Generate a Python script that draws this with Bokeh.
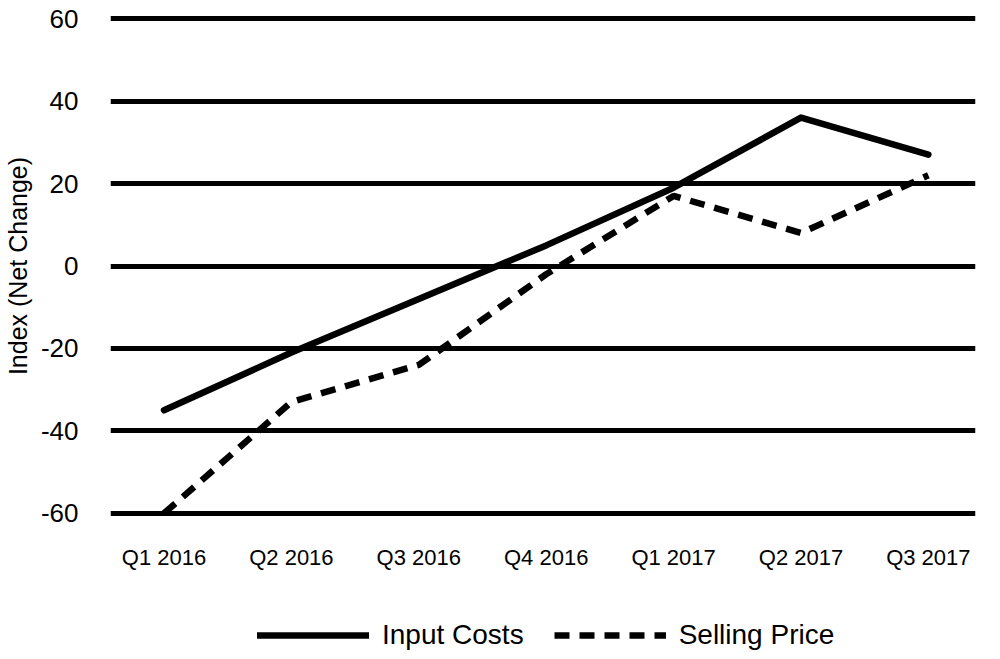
from bokeh.plotting import figure
from bokeh.layouts import column
from bokeh.models import Range1d, FixedTicker, Legend, LegendItem
from bokeh.embed import file_html
from bokeh.resources import INLINE

quarters = ["Q1 2016", "Q2 2016", "Q3 2016", "Q4 2016", "Q1 2017", "Q2 2017", "Q3 2017"]
input_costs = [-35, -21, -8, 5, 19, 36, 27]
selling_price = [-60, -33, -24, -2, 17, 8, 22]
y_ticks = [-60, -40, -20, 0, 20, 40, 60]
y_tick_labels = ["-60", "-40", "-20", "0", "20", "40", "60"]
series_names = ["Input Costs", "Selling Price"]

FONT = "Liberation Sans"
x = list(range(len(quarters)))
SOLID = dict(line_color="black", line_width=6.5, line_join="round", line_cap="round")
DASHED = dict(line_color="black", line_width=6.5, line_dash="15 10")

p = figure(width=984, height=575, output_backend="svg", toolbar_location=None,
           x_range=Range1d(-0.42, 6.37), y_range=Range1d(-61.5, 61.5),
           min_border_left=104, min_border_right=9, min_border_top=12, min_border_bottom=56)
p.outline_line_color = None
p.background_fill_color = "white"

# axes
p.xaxis.ticker = FixedTicker(ticks=x)
p.xaxis.major_label_overrides = {i: q for i, q in enumerate(quarters)}
p.xaxis.axis_line_color = None
p.xaxis.major_tick_line_color = None
p.xaxis.minor_tick_line_color = None
p.xaxis.major_tick_out = 0
p.xaxis.major_label_standoff = 25
p.xaxis.major_label_text_font = FONT
p.xaxis.major_label_text_font_size = "22px"
p.xaxis.major_label_text_color = "black"

p.yaxis.ticker = FixedTicker(ticks=y_ticks)
p.yaxis.major_label_overrides = {t: s for t, s in zip(y_ticks, y_tick_labels)}
p.yaxis.axis_line_color = None
p.yaxis.major_tick_line_color = None
p.yaxis.minor_tick_line_color = None
p.yaxis.major_tick_out = 0
p.yaxis.major_label_standoff = 32
p.yaxis.major_label_text_font = FONT
p.yaxis.major_label_text_font_size = "26px"
p.yaxis.major_label_text_color = "black"
p.yaxis.axis_label = "Index (Net Change)"
p.yaxis.axis_label_text_font = FONT
p.yaxis.axis_label_text_font_size = "25px"
p.yaxis.axis_label_text_font_style = "normal"
p.yaxis.axis_label_text_color = "black"
p.yaxis.axis_label_standoff = 6

p.xgrid.grid_line_color = None
p.ygrid.ticker = FixedTicker(ticks=y_ticks)
p.ygrid.grid_line_color = "black"
p.ygrid.grid_line_width = 5

p.line(x, input_costs, **SOLID)
p.line(x, selling_price, **DASHED)

# legend strip below the chart (its series lie outside its visible range; only the swatches show)
lg = figure(width=984, height=84, output_backend="svg", toolbar_location=None,
            x_range=Range1d(0, 1), y_range=Range1d(1000, 1001),
            x_axis_type=None, y_axis_type=None,
            min_border_left=0, min_border_right=0, min_border_top=0, min_border_bottom=0)
lg.outline_line_color = None
lg.xgrid.visible = False
lg.ygrid.visible = False
k1 = lg.line(x, input_costs, **SOLID)
k2 = lg.line(x, selling_price, **DASHED)
legend = Legend(items=[LegendItem(label=series_names[0], renderers=[k1]),
                       LegendItem(label=series_names[1], renderers=[k2])],
                orientation="horizontal", location=(147, 8),
                glyph_width=112, glyph_height=30, label_height=30,
                label_standoff=13, spacing=30, padding=0, margin=0,
                label_text_font=FONT, label_text_font_size="28px",
                label_text_color="black",
                border_line_color=None, background_fill_alpha=0)
lg.add_layout(legend, "center")

open("out.html", "w").write(file_html(column(p, lg, spacing=0), INLINE))
